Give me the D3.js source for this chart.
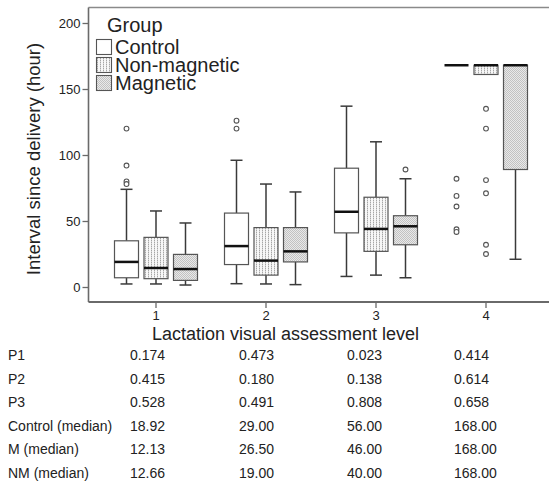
<!DOCTYPE html>
<html><head><meta charset="utf-8">
<script src="https://cdn.jsdelivr.net/npm/d3@7"></script>
<style>body{margin:0;background:#fff}svg{display:block;font-family:"Liberation Sans",Arial,sans-serif}</style>
</head><body><svg id="c" width="549" height="483"></svg>
<script>
const categories = ["1","2","3","4"];
const groups = ["Control","Non-magnetic","Magnetic"];
const yTicks = [0,50,100,150,200];
// box stats per group, one value per category
const whiskerLow = {Control:[2.3,2.5,8,null], "Non-magnetic":[2.3,2.3,9,null], Magnetic:[1.5,1.8,7,21]};
const q1 = {Control:[7,17,41,168], "Non-magnetic":[6.3,9,27,161], Magnetic:[5,19,32,89]};
const median = {Control:[19,31,57,168], "Non-magnetic":[14.4,20,44,168], Magnetic:[13.6,27,46,168]};
const q3 = {Control:[35,56,90,168], "Non-magnetic":[37.6,45,68,168], Magnetic:[24.7,45,54,168]};
const whiskerHigh = {Control:[74,96,137,null], "Non-magnetic":[57.6,78,110,null], Magnetic:[48.5,72,82,null]};
const outliers = {
  Control:[[120,92,80,78],[126,120],[],[82,69,61,43.7,41.7]],
  "Non-magnetic":[[],[],[],[135,120,81,71,32,25]],
  Magnetic:[[],[],[89],[]]
};
const rowLabels = ["P1","P2","P3","Control (median)","M (median)","NM (median)"];
const tableValues = [
  ["0.174","0.473","0.023","0.414"],
  ["0.415","0.180","0.138","0.614"],
  ["0.528","0.491","0.808","0.658"],
  ["18.92","29.00","56.00","168.00"],
  ["12.13","26.50","46.00","168.00"],
  ["12.66","19.00","40.00","168.00"]
];

const svg = d3.select("#c");
const defs = svg.append("defs");
// Non-magnetic dotted pattern (vertical dotted columns)
const p1 = defs.append("pattern").attr("id","pNM").attr("patternUnits","userSpaceOnUse").attr("width",3).attr("height",2);
p1.append("rect").attr("width",3).attr("height",2).attr("fill","#f7f7f7");
p1.append("rect").attr("x",1).attr("y",0).attr("width",1).attr("height",1).attr("fill","#a6a6a6");
p1.append("rect").attr("x",1).attr("y",1).attr("width",1).attr("height",1).attr("fill","#d6d6d6");
// Magnetic stipple pattern
const p2 = defs.append("pattern").attr("id","pM").attr("patternUnits","userSpaceOnUse").attr("width",2).attr("height",2);
p2.append("rect").attr("width",2).attr("height",2).attr("fill","#e9e9e9");
p2.append("rect").attr("x",0).attr("y",0).attr("width",1).attr("height",1).attr("fill","#c2c2c2");
p2.append("rect").attr("x",1).attr("y",1).attr("width",1).attr("height",1).attr("fill","#c2c2c2");
const fills = {Control:"#fff","Non-magnetic":"url(#pNM)",Magnetic:"url(#pM)"};

const x = d3.scaleBand().domain(categories).range([101,541]);
const xg = d3.scalePoint().domain(groups).range([-29.5,29.5]);
const y = d3.scaleLinear().domain([0,200]).range([287,23]);
const bw = 24, capW = 12;
const frameCol = "#6a6a6a", lineCol = "#3a3a3a";

// frame
svg.append("line").attr("x1",88.5).attr("x2",549).attr("y1",7.5).attr("y2",7.5).attr("stroke","#8a8a8a").attr("stroke-width",1.5);
svg.append("line").attr("x1",88.5).attr("x2",88.5).attr("y1",7.5).attr("y2",302).attr("stroke",frameCol).attr("stroke-width",1.6);
svg.append("line").attr("x1",88.5).attr("x2",549).attr("y1",302).attr("y2",302).attr("stroke",frameCol).attr("stroke-width",1.8);

// y axis
const ya = svg.append("g").attr("transform","translate(88.5,0)")
  .call(d3.axisLeft(y).tickValues(yTicks).tickSize(6).tickPadding(2));
ya.select(".domain").remove();
ya.selectAll("line").attr("stroke",frameCol).attr("stroke-width",1.3);
ya.selectAll("text").attr("font-size",13).attr("fill","#222").attr("font-family","Liberation Sans, Arial");
// x axis
const xa = svg.append("g").attr("transform","translate(0,302)")
  .call(d3.axisBottom(x).tickSize(6).tickPadding(3));
xa.select(".domain").remove();
xa.selectAll("line").attr("stroke",frameCol).attr("stroke-width",1.3);
xa.selectAll("text").attr("font-size",13).attr("fill","#222").attr("font-family","Liberation Sans, Arial");

// axis titles
svg.append("text").attr("transform","translate(40,159) rotate(-90)").attr("text-anchor","middle")
  .attr("font-size",18.5).attr("fill","#222").text("Interval since delivery (hour)");
svg.append("text").attr("x",285.5).attr("y",340).attr("text-anchor","middle")
  .attr("font-size",18).attr("fill","#222").text("Lactation visual assessment level");

// boxes
const plot = svg.append("g");
groups.forEach(g => {
  categories.forEach((c,i) => {
    const cx = x(c) + x.bandwidth()/2 + xg(g);
    const gg = plot.append("g");
    const lo = whiskerLow[g][i], hi = whiskerHigh[g][i];
    if (hi != null) {
      gg.append("line").attr("x1",cx).attr("x2",cx).attr("y1",y(q3[g][i])).attr("y2",y(hi)).attr("stroke",lineCol).attr("stroke-width",1.5);
      gg.append("line").attr("x1",cx-capW/2).attr("x2",cx+capW/2).attr("y1",y(hi)).attr("y2",y(hi)).attr("stroke",lineCol).attr("stroke-width",1.5);
    }
    if (lo != null) {
      gg.append("line").attr("x1",cx).attr("x2",cx).attr("y1",y(q1[g][i])).attr("y2",y(lo)).attr("stroke",lineCol).attr("stroke-width",1.5);
      gg.append("line").attr("x1",cx-capW/2).attr("x2",cx+capW/2).attr("y1",y(lo)).attr("y2",y(lo)).attr("stroke",lineCol).attr("stroke-width",1.5);
    }
    const h = y(q1[g][i]) - y(q3[g][i]);
    if (h > 0.5) {
      gg.append("rect").attr("x",cx-bw/2).attr("y",y(q3[g][i])).attr("width",bw).attr("height",h)
        .attr("fill",fills[g]).attr("stroke","#555").attr("stroke-width",1.2);
    }
    gg.append("line").attr("x1",cx-bw/2).attr("x2",cx+bw/2).attr("y1",y(median[g][i])).attr("y2",y(median[g][i]))
      .attr("stroke","#111").attr("stroke-width",2.5);
    gg.selectAll("circle").data(outliers[g][i]).join("circle")
      .attr("cx",cx).attr("cy",d=>y(d)).attr("r",2.4).attr("fill","#fff").attr("stroke","#555").attr("stroke-width",1.1);
  });
});

// legend
const lg = svg.append("g");
lg.append("text").attr("x",107).attr("y",32).attr("font-size",20).attr("fill","#222").text("Group");
groups.forEach((g,i) => {
  const yy = 39 + i*18;
  lg.append("rect").attr("x",96.5).attr("y",yy+0.5).attr("width",15).attr("height",15)
    .attr("fill",fills[g]).attr("stroke","#555").attr("stroke-width",1.1);
  lg.append("text").attr("x",115).attr("y",yy+15).attr("font-size",20).attr("fill","#222").text(g);
});

// table
const colX = [130,239,347,454];
rowLabels.forEach((r,i) => {
  const yy = 355 + i*23.6;
  svg.append("text").attr("x",8).attr("y",yy).attr("dominant-baseline","central").attr("font-size",14).attr("fill","#222").text(r);
  tableValues[i].forEach((v,j) => {
    svg.append("text").attr("x",colX[j]).attr("y",yy).attr("dominant-baseline","central").attr("font-size",14).attr("fill","#222").text(v);
  });
});
</script></body></html>
